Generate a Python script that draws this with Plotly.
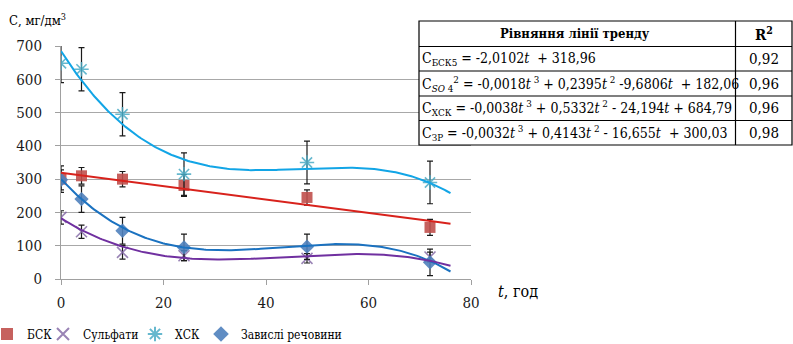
import numpy as np
import plotly.graph_objects as go

# ---------------- data ----------------
t_hours = [0, 4, 12, 24, 48, 72]

bsk = [300, 310, 300, 281, 245, 155]
bsk_err = [40, 25, 23, 33, 23, 24]

sulfates = [185, 142, 80, 70, 62, 66]
sulfates_err = [20, 20, 20, 15, 14, 15]

xck = [648, 630, 495, 315, 350, 290]
xck_err = [58, 65, 65, 64, 64, 64]

zr = [298, 240, 145, 95, 97, 50]
zr_err = [30, 40, 40, 40, 38, 40]

# trend-line coefficients (highest power first), as given in the table
coef_bsk = [-2.0102, 318.96]
coef_so4 = [-0.0018, 0.2395, -9.6806, 182.06]
coef_xck = [-0.0038, 0.5332, -24.194, 684.79]
coef_zr = [-0.0032, 0.4143, -16.655, 300.03]
trend_t_max = 76

legend_names = ["БСК", "Сульфати", "ХСК", "Завислі речовини"]

table_header = ["Рівняння лінії тренду", "R<sup>2</sup>"]
table_equations = [
    "C<sub>БСК5</sub> = -2,0102<i>t</i>  + 318,96",
    "C<sub><i>SO</i> 4</sub><sup>2</sup> = -0,0018<i>t</i><sup> 3</sup> + 0,2395<i>t</i><sup> 2</sup> -9,6806<i>t</i>  + 182,06",
    "C<sub>ХСК</sub> = -0,0038<i>t</i><sup> 3</sup> + 0,5332<i>t</i><sup> 2</sup> - 24,194<i>t</i> + 684,79",
    "C<sub>ЗР</sub> = -0,0032<i>t</i><sup> 3</sup> + 0,4143<i>t</i><sup> 2</sup> - 16,655<i>t</i>  + 300,03",
]
table_r2 = ["0,92", "0,96", "0,96", "0,98"]

# ---------------- layout geometry ----------------
W, H = 793, 344
L, R, T, B = 61, 471, 46, 279
FONT = "DejaVu Serif Condensed, DejaVu Serif"


def px(x):
    return (x - L) / (R - L)


def py(y):
    return (B - y) / (B - T)


fig = go.Figure()

err_style = dict(type="data", visible=True, color="#1a1a1a", thickness=1.2, width=3)

series = [
    (legend_names[0], bsk, bsk_err, dict(symbol="square", size=11, color="rgba(192,80,77,0.9)")),
    (legend_names[1], sulfates, sulfates_err,
     dict(symbol="x-thin-open", size=11, color="rgba(128,100,162,0.8)", line=dict(width=1.6, color="rgba(128,100,162,0.8)"))),
    (legend_names[2], xck, xck_err,
     dict(symbol="asterisk-open", size=12, color="rgba(75,172,198,0.85)", line=dict(width=1.6, color="rgba(75,172,198,0.85)"))),
    (legend_names[3], zr, zr_err, dict(symbol="diamond", size=11, color="rgba(79,129,189,0.9)")),
]
legend_ids = ["legend", "legend2", "legend3", "legend4"]
legend_left_px = [-13, 43, 135, 201]

for (name, vals, errs, mk), lid in zip(series, legend_ids):
    fig.add_trace(go.Scatter(
        x=t_hours, y=vals, mode="markers", name=name, marker=mk,
        error_y=dict(array=errs, **err_style), showlegend=True, legend=lid,
    ))

tt = np.linspace(0, trend_t_max, 200)
trends = [
    (coef_xck, "#12A5E6"),
    (coef_bsk, "#D8221C"),
    (coef_zr, "#1B72C0"),
    (coef_so4, "#7030A0"),
]
for coef, col in trends:
    fig.add_trace(go.Scatter(
        x=tt, y=np.polyval(coef, tt), mode="lines",
        line=dict(color=col, width=2), showlegend=False, hoverinfo="skip",
    ))

# ---------------- table (shapes + annotations) ----------------
tx0, tx1, tmid = 419, 792, 735.5
row_y = [21, 46.5, 71, 96, 120.5, 145]

shapes = [dict(type="rect", xref="paper", yref="paper",
               x0=px(tx0), x1=px(tx1), y0=py(row_y[-1]), y1=py(row_y[0]),
               fillcolor="white", line=dict(color="black", width=1.2), layer="above")]
for yy in row_y[1:-1]:
    shapes.append(dict(type="line", xref="paper", yref="paper",
                       x0=px(tx0), x1=px(tx1), y0=py(yy), y1=py(yy),
                       line=dict(color="black", width=1.2), layer="above"))
shapes.append(dict(type="line", xref="paper", yref="paper",
                   x0=px(tmid), x1=px(tmid), y0=py(row_y[-1]), y1=py(row_y[0]),
                   line=dict(color="black", width=1.2), layer="above"))

annotations = []
annotations.append(dict(xref="paper", yref="paper", x=px(575), y=py((row_y[0] + row_y[1]) / 2),
                        text="<b>" + table_header[0] + "</b>", showarrow=False,
                        font=dict(family=FONT, size=13, color="black"), xanchor="center", yanchor="middle"))
annotations.append(dict(xref="paper", yref="paper", x=px((tmid + tx1) / 2), y=py((row_y[0] + row_y[1]) / 2),
                        text="<b>" + table_header[1] + "</b>", showarrow=False,
                        font=dict(family=FONT, size=15, color="black"), xanchor="center", yanchor="middle"))
for i, (eq, r2) in enumerate(zip(table_equations, table_r2)):
    yc = (row_y[i + 1] + row_y[i + 2]) / 2
    annotations.append(dict(xref="paper", yref="paper", x=px(tx0 + 1), y=py(yc), text=eq, showarrow=False,
                            font=dict(family=FONT, size=14, color="black"), xanchor="left", yanchor="middle"))
    annotations.append(dict(xref="paper", yref="paper", x=px((tmid + tx1) / 2), y=py(yc), text=r2, showarrow=False,
                            font=dict(family=FONT, size=15, color="black"), xanchor="center", yanchor="middle"))

# axis titles
annotations.append(dict(xref="paper", yref="paper", x=px(7), y=py(20), text="С, мг/дм<sup>3</sup>",
                        showarrow=False, font=dict(family=FONT, size=13, color="black"),
                        xanchor="left", yanchor="middle"))
annotations.append(dict(xref="paper", yref="paper", x=px(496), y=py(291), text="<i>t</i>, год",
                        showarrow=False, font=dict(family=FONT, size=16, color="black"),
                        xanchor="left", yanchor="middle"))

legend_common = dict(orientation="h", xanchor="left", yanchor="middle",
                     font=dict(family=FONT, size=12, color="black"), bgcolor="rgba(0,0,0,0)",
                     itemsizing="constant")
legends = {lid: dict(x=px(xl), y=py(334), **legend_common) for lid, xl in zip(legend_ids, legend_left_px)}

fig.update_layout(
    width=W, height=H,
    margin=dict(l=L, r=W - R, t=T, b=H - B, pad=0, autoexpand=False),
    paper_bgcolor="white", plot_bgcolor="white",
    font=dict(family=FONT, size=15, color="#1a1a1a"),
    shapes=shapes, annotations=annotations,
    xaxis=dict(range=[0, 80], dtick=20, showgrid=False, zeroline=False, showline=True,
               linecolor="#A0A0A0", linewidth=1, ticks="outside", ticklen=5, tickcolor="#A0A0A0",
               automargin=False, ticklabelstandoff=5,
               tickfont=dict(family=FONT, size=15, color="#1a1a1a")),
    yaxis=dict(range=[0, 700], dtick=100, showgrid=True, gridcolor="#A8A8A8", gridwidth=1,
               zeroline=False, showline=True, linecolor="#A0A0A0", linewidth=1,
               ticks="outside", ticklen=5, tickcolor="#A0A0A0",
               automargin=False, ticklabelstandoff=10,
               tickfont=dict(family=FONT, size=15, color="#1a1a1a")),
    **legends,
)

fig.write_html("out.html")
